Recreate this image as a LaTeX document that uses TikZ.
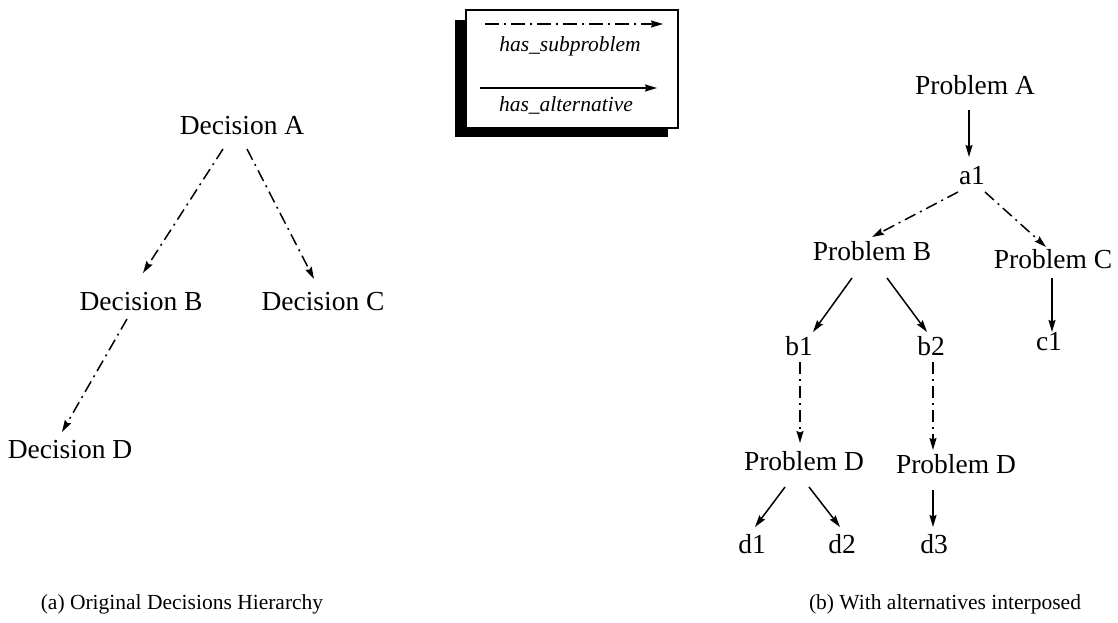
\documentclass[tikz,border=0pt]{standalone}
\usepackage{fontspec}
\setmainfont{Liberation Serif}
\usetikzlibrary{arrows.meta}
\tikzset{
  lbl/.style={inner sep=0pt, anchor=base, font=\fontsize{27.5}{30}\selectfont},
  captxt/.style={inner sep=0pt, anchor=base, font=\fontsize{21.5}{24}\selectfont},
  legtxt/.style={inner sep=0pt, anchor=base, font=\fontsize{21.5}{24}\selectfont\itshape},
  linkarrow/.style={line width=1.5pt, -{Stealth[length=12pt,width=7pt,inset=1.5pt]}},
  subarrow/.style={linkarrow, dash pattern=on 12pt off 5pt on 2pt off 5pt},
  altarrow/.style={linkarrow},
}
\begin{document}
\begin{tikzpicture}[x=1pt,y=-1pt]
\useasboundingbox (0,0) rectangle (1118,623);

% legend box with drop shadow
\fill[black] (455,20) rectangle (668,137);
\draw[fill=white, line width=1.5pt] (466,10) rectangle (678,128);
\coordinate (s1) at (485,24);
\coordinate (e1) at (663,24);
\coordinate (s2) at (480,88);
\coordinate (e2) at (657,88);
\draw[subarrow, dash pattern=on 14pt off 5pt on 2pt off 5pt] (s1) -- (e1);
\draw[altarrow] (s2) -- (e2);
\node[legtxt] (lsub) at (570,52) {has\_subproblem};
\node[legtxt] (lalt) at (566,111) {has\_alternative};

% (a) decision hierarchy
\node[lbl] (dA) at (242,135) {Decision A};
\node[lbl] (dB) at (141,310) {Decision B};
\node[lbl] (dC) at (323,310) {Decision C};
\node[lbl] (dD) at (70,458) {Decision D};
\draw[subarrow] ([shift={(-19,14)}]dA.base) -- ([shift={(2,-37)}]dB.base);
\draw[subarrow] ([shift={(5,14)}]dA.base) -- ([shift={(-9,-31)}]dC.base);
\draw[subarrow] ([shift={(-14,9)}]dB.base) -- ([shift={(-8,-26)}]dD.base);
\node[captxt] (capA) at (182,609) {(a) Original Decisions Hierarchy};

% (b) problems with alternatives
\node[lbl] (pA) at (975,95) {Problem A};
\node[lbl] (a1) at (972,184) {a1};
\node[lbl] (pB) at (872,260) {Problem B};
\node[lbl] (pC) at (1053,268) {Problem C};
\node[lbl] (b1) at (799,355) {b1};
\node[lbl] (b2) at (931,355) {b2};
\node[lbl] (c1) at (1049,350) {c1};
\node[lbl] (pD1) at (804,470) {Problem D};
\node[lbl] (pD2) at (956,473) {Problem D};
\node[lbl] (d1) at (752,553) {d1};
\node[lbl] (d2) at (842,553) {d2};
\node[lbl] (d3) at (934,553) {d3};

\draw[altarrow] ([shift={(-6,15)}]pA.base) -- ([shift={(-3,-27)}]a1.base);
\draw[subarrow] ([shift={(-14,8)}]a1.base) -- ([shift={(0,-23)}]pB.base);
\draw[subarrow] ([shift={(13,8)}]a1.base) -- ([shift={(-7,-21)}]pC.base);
\draw[altarrow] ([shift={(-20,18)}]pB.base) -- ([shift={(14,-23)}]b1.base);
\draw[altarrow] ([shift={(15,18)}]pB.base) -- ([shift={(-4,-23)}]b2.base);
\draw[altarrow] ([shift={(-1,10)}]pC.base) -- ([shift={(3,-18)}]c1.base);
\draw[subarrow] ([shift={(1,7)}]b1.base) -- ([shift={(-4,-27)}]pD1.base);
\draw[subarrow] ([shift={(2,7)}]b2.base) -- ([shift={(-23,-23)}]pD2.base);
\draw[altarrow] ([shift={(-19,17)}]pD1.base) -- ([shift={(3,-26)}]d1.base);
\draw[altarrow] ([shift={(5,17)}]pD1.base) -- ([shift={(-2,-26)}]d2.base);
\draw[altarrow] ([shift={(-23,17)}]pD2.base) -- ([shift={(-1,-26)}]d3.base);
\node[captxt] (capB) at (945,609) {(b) With alternatives interposed};
\end{tikzpicture}
\end{document}
